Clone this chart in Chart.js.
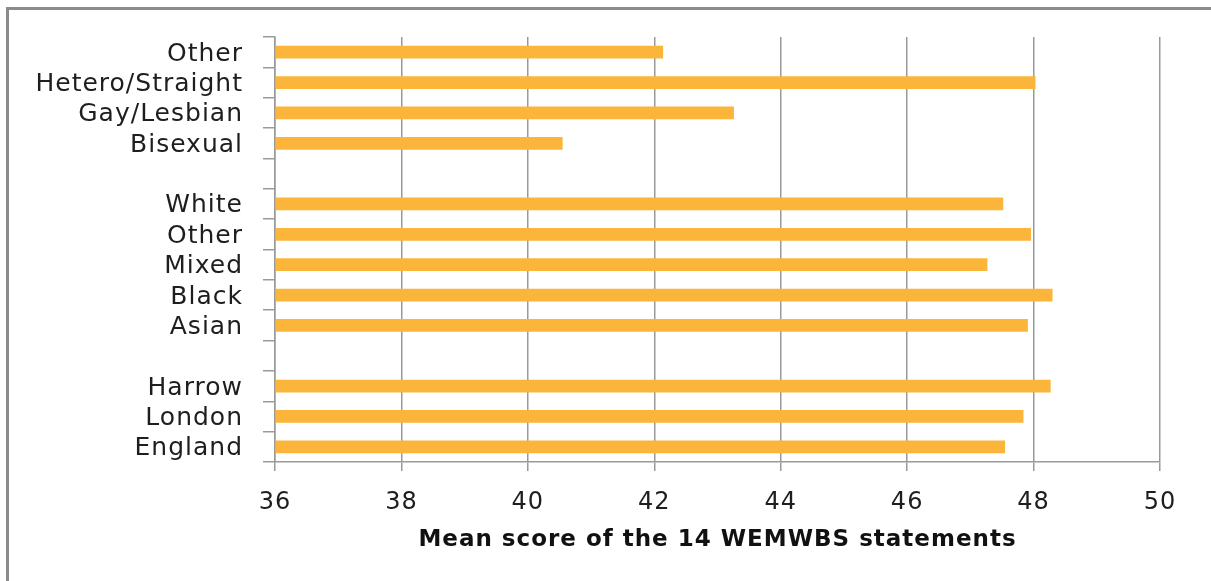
<!DOCTYPE html>
<html>
<head>
<meta charset="utf-8">
<script src="https://cdn.jsdelivr.net/npm/chart.js@4"></script>
<style>
  body { margin: 0; background: #fff; }
  #frame { position: absolute; left: 6px; top: 7px; width: 1300px; height: 700px;
           border-left: 3px solid #8c8c8c; border-top: 3px solid #8c8c8c; }
  #wrap { position: absolute; left: 0; top: 0; width: 1211px; height: 581px; }
</style>
</head>
<body>
<div id="frame"></div>
<div id="wrap"><canvas id="myChart" width="1211" height="581"></canvas></div>
<script>
// categories top to bottom, blanks are the gaps between groups
const categories = ['Other', 'Hetero/Straight', 'Gay/Lesbian', 'Bisexual', '',
  'White', 'Other', 'Mixed', 'Black', 'Asian', '',
  'Harrow', 'London', 'England'];
const meanScores = [42.14, 48.03, 43.26, 40.55, null,
  47.52, 47.96, 47.27, 48.30, 47.91, null,
  48.27, 47.84, 47.55];
const axisMin = 36;
const axisMax = 50;
const axisStep = 2;
const axisTitle = 'Mean score of the 14 WEMWBS statements';

// the original text is drawn wide, so space the letters a little
const wideText = {
    id: 'wideText',
    beforeUpdate(chart) { chart.ctx.letterSpacing = '1px'; },
    beforeDraw(chart) { chart.ctx.letterSpacing = '1px'; }
};

const ctx = document.getElementById('myChart');

var chart = new Chart(ctx, {
    type: 'bar',
    data: {
        labels: categories,
        datasets: [{
            data: meanScores,
            base: axisMin,
            backgroundColor: '#FAB53A',
            borderWidth: 0,
            categoryPercentage: 1,
            barPercentage: 0.42
        }]
    },
    options: {
        indexAxis: 'y',
        responsive: false,
        animation: false,
        layout: { padding: { top: 37, right: 51, left: 0, bottom: 0 } },
        plugins: { legend: { display: false }, tooltip: { enabled: false } },
        scales: {
            x: {
                min: axisMin,
                max: axisMax,
                ticks: { stepSize: axisStep, color: '#1e1e1e', padding: 17,
                         autoSkip: false, maxRotation: 0,
                         font: { family: 'DejaVu Sans', size: 24 } },
                grid: { color: '#9a9a9a', lineWidth: 1.5, tickLength: 9 },
                border: { color: '#9a9a9a', width: 1.5 },
                title: { display: true, text: axisTitle, color: '#111',
                         font: { family: 'DejaVu Sans', size: 23, weight: 'bold' },
                         padding: { top: 0, bottom: 27 } },
                afterFit: (scale) => { scale.height = 119; }
            },
            y: {
                ticks: { color: '#1e1e1e', padding: 20, autoSkip: false, labelOffset: 2,
                         font: { family: 'DejaVu Sans', size: 25 } },
                grid: { drawOnChartArea: false, color: '#9a9a9a', lineWidth: 1.5, tickLength: 12 },
                border: { color: '#9a9a9a', width: 1.5 },
                afterFit: (scale) => { scale.width = 275; }
            }
        }
    },
    plugins: [wideText]
});
</script>
</body>
</html>
